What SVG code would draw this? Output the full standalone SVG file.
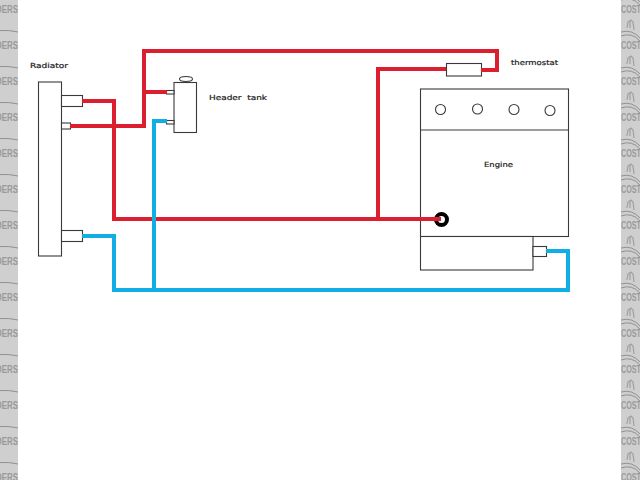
<svg xmlns="http://www.w3.org/2000/svg" width="640" height="480" viewBox="0 0 640 480">
  <style>
    .box { fill: #fff; stroke: #3a3a3a; stroke-width: 1.1; }
    .hot { fill: none; stroke: #dc1f2e; stroke-width: 4; stroke-linejoin: miter; }
    .cold { fill: none; stroke: #11aee6; stroke-width: 4; stroke-linejoin: miter; }
    .label { font-family: "DejaVu Sans", sans-serif; font-size: 7px; fill: #222; stroke: #222; stroke-width: 0.2; }
    .mark { font-family: "Liberation Sans", sans-serif; font-weight: bold; font-size: 11px; fill: #9a9a9a; }
    .markline { fill: none; stroke: #909090; stroke-width: 1; }
  </style>
  <defs>
    <clipPath id="leftStrip"><rect x="0" y="0" width="18" height="480"/></clipPath>
    <clipPath id="rightStrip"><rect x="621" y="0" width="19" height="480"/></clipPath>
    <g id="tileLeft">
      <text class="mark" x="-4" y="12.5" textLength="22" lengthAdjust="spacingAndGlyphs">DERS</text>
      <path class="markline" d="M0 30.5 Q10 30 18 32"/>
    </g>
    <g id="tileRight">
      <path d="M627 28 L628 22 L631 20 L633 22 L634 30 M630 21 L630 28" fill="none" stroke="#a0a0a0" stroke-width="1.2"/>
      <path class="markline" d="M621 32 Q632 29 640 38" stroke-width="2"/>
      <path class="markline" d="M621 36 Q632 32 640 41"/>
      <text class="mark" x="621" y="48.5" textLength="20" lengthAdjust="spacingAndGlyphs">COST</text>
    </g>
  </defs>

  <rect width="640" height="480" fill="#fff"/>

  <!-- side strips with repeating site mark -->
  <g id="strips">
    <rect x="0" y="0" width="18" height="480" fill="#cfcfcf"/>
    <rect x="621" y="0" width="19" height="480" fill="#cfcfcf"/>
    <g clip-path="url(#leftStrip)">
      <use href="#tileLeft" y="0"/><use href="#tileLeft" y="36"/><use href="#tileLeft" y="72"/>
      <use href="#tileLeft" y="108"/><use href="#tileLeft" y="144"/><use href="#tileLeft" y="180"/>
      <use href="#tileLeft" y="216"/><use href="#tileLeft" y="252"/><use href="#tileLeft" y="288"/>
      <use href="#tileLeft" y="324"/><use href="#tileLeft" y="360"/><use href="#tileLeft" y="396"/>
      <use href="#tileLeft" y="432"/><use href="#tileLeft" y="468"/>
    </g>
    <g clip-path="url(#rightStrip)">
      <use href="#tileRight" y="-36"/><use href="#tileRight" y="0"/><use href="#tileRight" y="36"/>
      <use href="#tileRight" y="72"/><use href="#tileRight" y="108"/><use href="#tileRight" y="144"/>
      <use href="#tileRight" y="180"/><use href="#tileRight" y="216"/><use href="#tileRight" y="252"/>
      <use href="#tileRight" y="288"/><use href="#tileRight" y="324"/><use href="#tileRight" y="360"/>
      <use href="#tileRight" y="396"/><use href="#tileRight" y="432"/>
    </g>
  </g>

  <g id="radiator">
    <rect class="box" x="38.5" y="82" width="23" height="174"/>
    <rect class="box" x="61.5" y="95.5" width="21" height="11"/>
    <rect class="box" x="61.5" y="123" width="9" height="6"/>
    <rect class="box" x="61.5" y="230.5" width="21" height="11"/>
    <text class="label" x="30" y="68" textLength="38" lengthAdjust="spacingAndGlyphs">Radiator</text>
  </g>

  <g id="header-tank">
    <rect class="box" x="174" y="82.5" width="22.5" height="50"/>
    <rect class="box" x="166.5" y="90.5" width="7.5" height="3.5"/>
    <rect class="box" x="166.5" y="120.5" width="7.5" height="3.5"/>
    <ellipse class="box" cx="186" cy="79" rx="6.5" ry="2.5"/>
    <text class="label" x="209" y="100" textLength="58" lengthAdjust="spacingAndGlyphs" xml:space="preserve">Header  tank</text>
  </g>

  <g id="thermostat">
    <rect class="box" x="446.5" y="63.5" width="35" height="12.5"/>
    <text class="label" x="511" y="65" textLength="47" lengthAdjust="spacingAndGlyphs">thermostat</text>
  </g>

  <g id="engine">
    <rect class="box" x="420.5" y="89" width="148" height="147.5"/>
    <path d="M420.5 130H568.5" fill="none" stroke="#3a3a3a" stroke-width="1.1"/>
    <circle class="box" cx="440.5" cy="109.5" r="5"/>
    <circle class="box" cx="477.5" cy="109" r="5"/>
    <circle class="box" cx="514" cy="109.5" r="5"/>
    <circle class="box" cx="550" cy="110.5" r="5"/>
    <rect class="box" x="420.5" y="236.5" width="112.5" height="33.5"/>
    <rect class="box" x="533" y="246.5" width="13.5" height="10"/>
    <text class="label" x="484" y="167" textLength="29" lengthAdjust="spacingAndGlyphs">Engine</text>
    <circle cx="441.5" cy="219.5" r="5.5" fill="#fff" stroke="#000" stroke-width="4"/>
  </g>

  <g id="connectors">
    <path class="hot" d="M82 101H114V219H441"/>
    <path class="hot" d="M70 126H144V51H497V70H481"/>
    <path class="hot" d="M144 92H167"/>
    <path class="hot" d="M378 219V69H446"/>
    <path class="cold" d="M82 236H114V290H568V251H546"/>
    <path class="cold" d="M154 290V121H167"/>
  </g>
</svg>
